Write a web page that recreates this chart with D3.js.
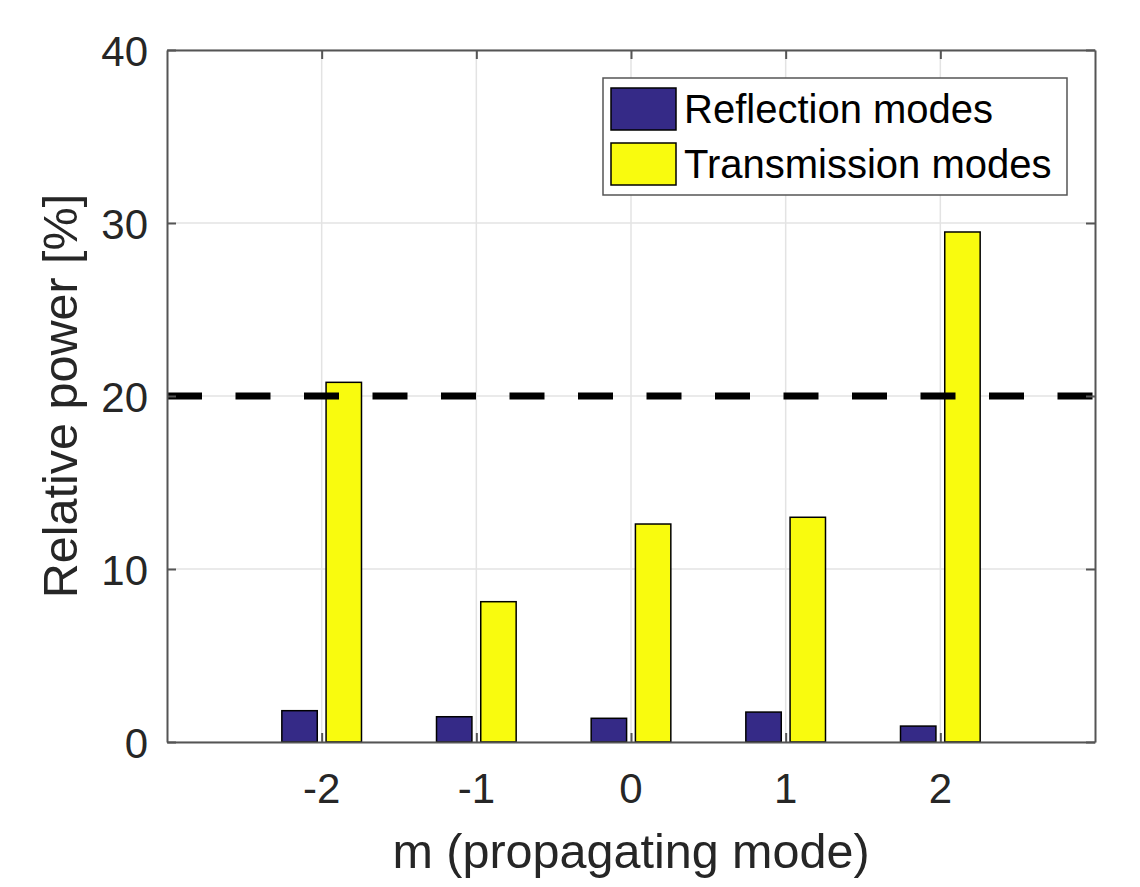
<!DOCTYPE html>
<html>
<head>
<meta charset="utf-8">
<script src="https://cdn.jsdelivr.net/npm/d3@7"></script>
<style>
  body { margin: 0; background: #fff; }
  text { font-family: "Liberation Sans", Arial, Helvetica, sans-serif; fill: #262626; }
</style>
</head>
<body>
<script>
var modes = [-2, -1, 0, 1, 2];
var reflection = [1.81, 1.46, 1.37, 1.73, 0.92];
var transmission = [20.79, 8.11, 12.60, 12.99, 29.48];
var yTicks = [0, 10, 20, 30, 40];
var threshold = 20;
var seriesNames = ['Reflection modes', 'Transmission modes'];
var seriesColors = ['#352a87', '#f9fb0e'];

var width = 1140,
    height = 887,
    plot = { left: 167, right: 1095, top: 50, bottom: 742 };

var svg = d3.select('body')
    .append('svg')
    .attr('width', width)
    .attr('height', height)

var xScale = d3.scaleLinear()
    .domain([-3, 3])
    .range([plot.left, plot.right])
var yScale = d3.scaleLinear()
    .domain([0, 40])
    .range([plot.bottom, plot.top])

// grid
var grid = svg.append('g').attr('stroke', '#e3e3e3').attr('stroke-width', 1.5)
grid.selectAll('.gx').data(modes).enter().append('line')
    .attr('x1', d => xScale(d)).attr('x2', d => xScale(d))
    .attr('y1', plot.top).attr('y2', plot.bottom)
grid.selectAll('.gy').data(yTicks).enter().append('line')
    .attr('x1', plot.left).attr('x2', plot.right)
    .attr('y1', d => yScale(d)).attr('y2', d => yScale(d))

// grouped bars, like matlab bar(x, [a b])
var barW = 0.229, off = 0.143;
var series = [reflection, transmission];
series.forEach(function (vals, si) {
    var shift = si === 0 ? -off : off;
    svg.append('g').selectAll('rect')
        .data(modes)
        .enter().append('rect')
        .attr('x', (d) => xScale(d + shift - barW / 2))
        .attr('width', xScale(barW) - xScale(0))
        .attr('y', (d, i) => yScale(vals[i]))
        .attr('height', (d, i) => yScale(0) - yScale(vals[i]))
        .attr('fill', seriesColors[si])
        .attr('stroke', '#000')
        .attr('stroke-width', 1.5)
})

// 20% line
svg.append('line')
    .attr('x1', plot.left).attr('x2', plot.right)
    .attr('y1', yScale(threshold)).attr('y2', yScale(threshold))
    .attr('stroke', '#000')
    .attr('stroke-width', 7)
    .attr('stroke-dasharray', '35 33.5')

// axes (box with inward ticks on all sides)
var xAxisB = d3.axisBottom(xScale).tickValues(modes).tickSize(-9).tickSizeOuter(0).tickFormat('')
var xAxisT = d3.axisTop(xScale).tickValues(modes).tickSize(-9).tickSizeOuter(0).tickFormat('')
var yAxisL = d3.axisLeft(yScale).tickValues(yTicks).tickSize(-9).tickSizeOuter(0).tickFormat('')
var yAxisR = d3.axisRight(yScale).tickValues(yTicks).tickSize(-9).tickSizeOuter(0).tickFormat('')

svg.append('g').attr('transform', `translate(0, ${plot.bottom})`).call(xAxisB)
svg.append('g').attr('transform', `translate(0, ${plot.top})`).call(xAxisT)
svg.append('g').attr('transform', `translate(${plot.left}, 0)`).call(yAxisL)
svg.append('g').attr('transform', `translate(${plot.right}, 0)`).call(yAxisR)
svg.selectAll('.domain, .tick line').attr('stroke', '#555').attr('stroke-width', 2)

// tick labels
svg.append('g').selectAll('text').data(modes).enter().append('text')
    .attr('x', d => xScale(d))
    .attr('y', 803)
    .attr('text-anchor', 'middle')
    .attr('font-size', 42)
    .text(d => d)
svg.append('g').selectAll('text').data(yTicks).enter().append('text')
    .attr('x', 148)
    .attr('y', d => yScale(d) + 16)
    .attr('text-anchor', 'end')
    .attr('font-size', 42)
    .text(d => d)

// axis titles
svg.append('text')
    .attr('x', (plot.left + plot.right) / 2)
    .attr('y', 868)
    .attr('text-anchor', 'middle')
    .attr('font-size', 48.5)
    .text('m (propagating mode)')
svg.append('text')
    .attr('transform', `translate(77, ${(plot.top + plot.bottom) / 2}) rotate(-90)`)
    .attr('text-anchor', 'middle')
    .attr('font-size', 48.5)
    .text('Relative power [%]')

// legend
var legend = svg.append('g')
legend.append('rect')
    .attr('x', 603).attr('y', 78)
    .attr('width', 464).attr('height', 117)
    .attr('fill', '#fff')
    .attr('stroke', '#555')
    .attr('stroke-width', 1.5)
seriesNames.forEach(function (name, i) {
    var y0 = 88 + i * 55;
    legend.append('rect')
        .attr('x', 611).attr('y', y0)
        .attr('width', 65).attr('height', 42)
        .attr('fill', seriesColors[i])
        .attr('stroke', '#000')
        .attr('stroke-width', 1.5)
    legend.append('text')
        .attr('x', 684)
        .attr('y', y0 + 35)
        .attr('font-size', 40)
        .style('fill', '#000')
        .text(name)
})
</script>
</body>
</html>
